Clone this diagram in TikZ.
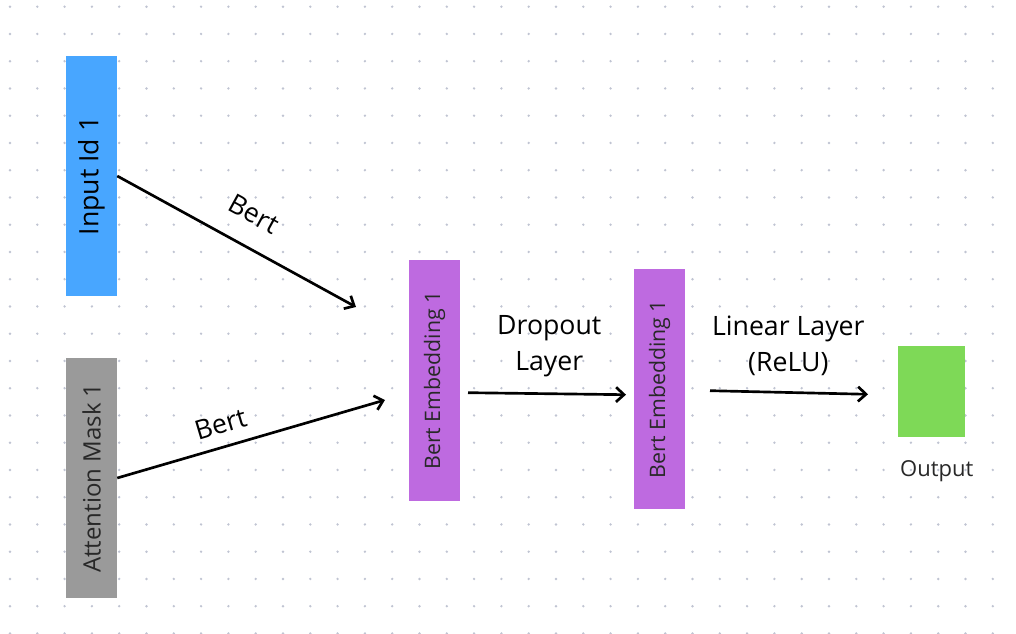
\documentclass[tikz,border=0pt]{standalone}
\usepackage{fontspec}
\setmainfont{Open Sans}
\usepackage{graphicx}
\usetikzlibrary{arrows.meta}
\definecolor{dotc}{RGB}{192,196,210}
\definecolor{inblue}{RGB}{72,166,255}
\definecolor{attgray}{RGB}{154,154,154}
\definecolor{embpurple}{RGB}{190,106,224}
\definecolor{outgreen}{RGB}{126,217,87}
\definecolor{darktext}{RGB}{40,40,40}
\tikzset{
  box/.style={rectangle, inner sep=0pt, minimum width=38.25pt, minimum height=180pt},
  arr/.style={line width=2pt, -{Straight Barb[length=6pt,width=11pt]}},
  lbl/.style={inner sep=0pt, font=\fontsize{20}{27}\selectfont, text=black, align=center},
}
\begin{document}
\begin{tikzpicture}[x=0.75pt,y=-0.75pt]
\useasboundingbox (0,0) rectangle (1016,634);
\fill[white] (0,0) rectangle (1016,634);
\foreach \i in {0,...,36}{\foreach \j in {0,...,23}{\fill[dotc] ({10+27.3*\i},{6.7+27.25*\j}) circle[radius=1pt];}}

\node[box, fill=inblue, text=black] (inp) at (91.5,176) {\rotatebox{90}{\fontsize{20}{24}\selectfont Input Id 1}};
\node[box, fill=attgray, text=darktext] (att) at (91.5,478) {\rotatebox{90}{\fontsize{18}{22}\selectfont Attention Mask 1}};
\node[box, fill=embpurple, text=darktext] (emb1) at (434.5,380.5) {\rotatebox{90}{\fontsize{16}{20}\selectfont Bert Embedding 1}};
\node[box, fill=embpurple, text=darktext] (emb2) at (659.5,389) {\rotatebox{90}{\fontsize{16}{20}\selectfont Bert Embedding 1}};
\node[rectangle, inner sep=0pt, minimum width=50.25pt, minimum height=68.25pt, fill=outgreen] (out) at (931.5,391.5) {};
\node[inner sep=0pt, anchor=base, text=darktext, font=\fontsize{16.5}{20}\selectfont] (outlbl) at (936.7,476.7) {Output};

\coordinate (e1) at (356,307);
\coordinate (e2) at (385,400);
\coordinate (d1) at (468,392.7);
\coordinate (d2) at (626,394.7);
\coordinate (l1) at (710,390.7);
\coordinate (l2) at (868,394.3);

\draw[arr] (inp.east) -- (e1);
\draw[arr] (att.east) -- (e2);
\draw[arr] (d1) -- (d2);
\draw[arr] (l1) -- (l2);

\node[lbl, rotate=-28.7] (b1) at (254,214) {Bert};
\node[lbl, rotate=16.6] (b2) at (220.5,424) {Bert};
\node[lbl] (drop) at (549.3,346.5) {Dropout\\Layer};
\node[lbl] (lin) at (788.3,346) {Linear Layer\\(ReLU)};
\end{tikzpicture}
\end{document}
